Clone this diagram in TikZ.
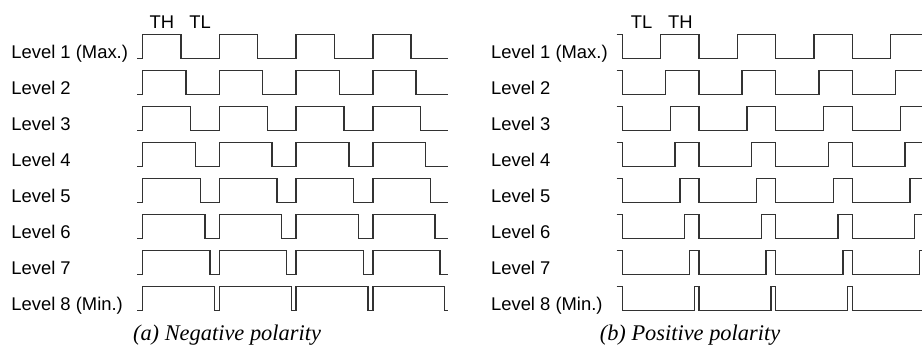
\documentclass[tikz,border=0pt]{standalone}
\usepackage{fontspec}
\setmainfont{Liberation Serif}
\setsansfont{Liberation Sans}
\definecolor{wavegray}{RGB}{50,50,50}

\begin{document}
\begin{tikzpicture}[x=0.5pt, y=-0.5pt,
    sigline/.style={wavegray, line width=0.7pt},
    lvltext/.style={font=\sffamily\fontsize{9.2}{11}\selectfont, anchor=base west, inner sep=0pt},
    ttext/.style={font=\sffamily\fontsize{9.2}{11}\selectfont, anchor=base, inner sep=0pt},
    captext/.style={font=\itshape\fontsize{11.2}{13}\selectfont, anchor=base, inner sep=0pt}]
    \useasboundingbox (0,0) rectangle (922,349);
    % level names, both panels
    \foreach \k/\name in {1/Level 1 (Max.), 2/Level 2, 3/Level 3, 4/Level 4,
                          5/Level 5, 6/Level 6, 7/Level 7, 8/Level 8 (Min.)} {
        \pgfmathsetmacro\yb{58+36*(\k-1)}
        \node[lvltext] (negL\k) at (11,\yb) {\name};
        \node[lvltext] (posL\k) at (490.7,\yb) {\name};
    }
    % negative polarity
    \foreach \k in {1,...,8} {
        \pgfmathsetmacro\yl{58.7+36*(\k-1)}
        \pgfmathsetmacro\hw{76.7-38.35*(9-\k)/8}
        \draw[sigline] (137,\yl) \foreach \i in {0,...,3} {
            -- ({142.7+76.7*\i},\yl) -- ++(0,-24.3) -- ++(\hw,0) -- ++(0,24.3) } -- (448,\yl);
    }
    % positive polarity, cut at the right edge
    \begin{scope}
        \clip (0,0) rectangle (922,349);
        \foreach \k in {1,...,8} {
            \pgfmathsetmacro\yh{58.7+36*(\k-1)-24.3}
            \pgfmathsetmacro\hw{76.7-38.35*(9-\k)/8}
            \draw[sigline] (616.7,\yh) \foreach \i in {0,...,3} {
                -- ({622.3+76.7*\i},\yh) -- ++(0,24.3) -- ++(\hw,0) -- ++(0,-24.3) } -- (940,\yh);
        }
    \end{scope}
    \node[ttext] (thNeg) at (162,28) {TH};
    \node[ttext] (tlNeg) at (200,28) {TL};
    \node[ttext] (tlPos) at (641.5,28) {TL};
    \node[ttext] (thPos) at (680.5,28) {TH};
    \node[captext] (capNeg) at (227,340) {(a) Negative polarity};
    \node[captext] (capPos) at (690,340) {(b) Positive polarity};
\end{tikzpicture}
\end{document}
